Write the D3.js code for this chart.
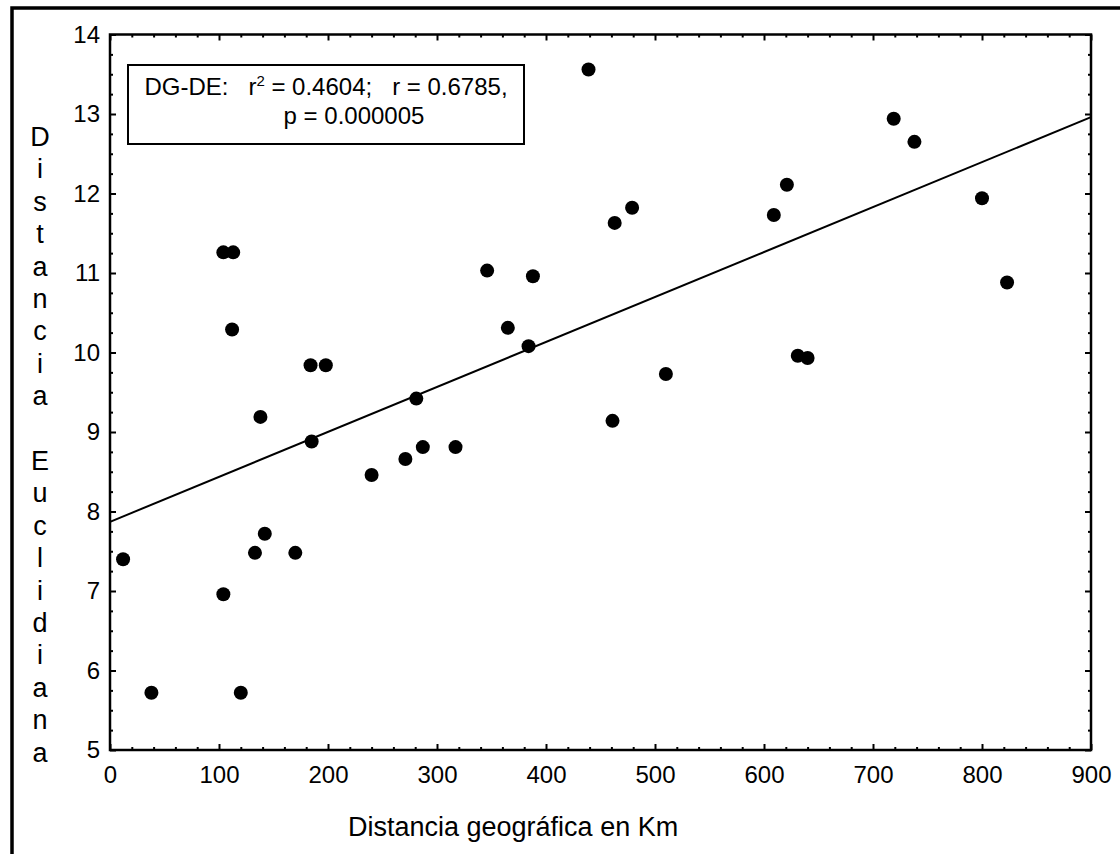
<!DOCTYPE html>
<html>
<head>
<meta charset="utf-8">
<script src="https://cdn.jsdelivr.net/npm/d3@7"></script>
<style>
  body { margin: 0; background: #fff; }
  svg { display: block; font-family: "Liberation Sans", Arial, sans-serif; }
  text { white-space: pre; }
</style>
</head>
<body>
<div id="chart"></div>
<script>
// Distancia geográfica (km) vs distancia euclidiana
const distKm = [12, 38, 104, 120, 133, 142, 170, 104, 113, 112, 138, 184, 198, 185,
  240, 271, 281, 287, 317, 346, 365, 384, 388, 439, 461, 463, 479, 510,
  609, 621, 631, 640, 719, 738, 800, 823];
const distEuc = [7.40, 5.72, 6.96, 5.72, 7.48, 7.72, 7.48, 11.26, 11.26, 10.29, 9.19, 9.84, 9.84, 8.88,
  8.46, 8.66, 9.42, 8.81, 8.81, 11.03, 10.31, 10.08, 10.96, 13.56, 9.14, 11.63, 11.82, 9.73,
  11.73, 12.11, 9.96, 9.93, 12.94, 12.65, 11.94, 10.88];

// regression line end points
const regX = [0, 900];
const regY = [7.87, 12.96];

const xTicks = [0, 100, 200, 300, 400, 500, 600, 700, 800, 900];
const yTicks = [5, 6, 7, 8, 9, 10, 11, 12, 13, 14];
const xMinor = d3.range(0, 901, 20).filter(d => d % 100 !== 0);
const yMinor = d3.range(5, 14.01, 0.25).filter(d => d % 1 !== 0);

const yTitle = "Distancia Euclidiana";
const xTitle = "Distancia geográfica en Km";
const legendLine1 = ["DG-DE:   r", "2", " = 0.4604;   r = 0.6785,"];
const legendLine2 = "p = 0.000005";

const W = 1120, H = 854;
const margin = { top: 34.5, right: 29, bottom: 104, left: 110 };

const x = d3.scaleLinear()
  .domain([0, 900])
  .range([margin.left, W - margin.right]);

const y = d3.scaleLinear()
  .domain([5, 14])
  .range([H - margin.bottom, margin.top]);

const svg = d3.select("#chart")
  .append("svg")
  .attr("width", W)
  .attr("height", H);

// outer frame
svg.append("rect")
  .attr("x", 12).attr("y", 8)
  .attr("width", W + 20).attr("height", H + 20)
  .attr("fill", "none")
  .attr("stroke", "#000")
  .attr("stroke-width", 3.5);

// axes with inward ticks
function addAxis(axis, tx, ty, labels, fontSize) {
  const g = svg.append("g")
    .attr("transform", `translate(${tx},${ty})`)
    .call(axis);
  g.select(".domain").remove();
  g.selectAll(".tick line").attr("stroke", "#000").attr("stroke-width", 2);
  g.selectAll(".tick text")
    .attr("fill", "#000")
    .style("font-size", fontSize + "px")
    .style("font-family", "'Liberation Sans', Arial, sans-serif");
  if (!labels) g.selectAll(".tick text").remove();
  return g;
}

const yBot = y(5), yTop = y(14), xL = x(0), xR = x(900);

addAxis(d3.axisBottom(x).tickValues(xTicks).tickSize(-6).tickPadding(16).tickFormat(d3.format("d")), 0, yBot, true, 24);
addAxis(d3.axisBottom(x).tickValues(xMinor).tickSize(-3).tickFormat(""), 0, yBot, false);
addAxis(d3.axisTop(x).tickValues(xTicks).tickSize(-6), 0, yTop, false);
addAxis(d3.axisTop(x).tickValues(xMinor).tickSize(-3), 0, yTop, false);

addAxis(d3.axisLeft(y).tickValues(yTicks).tickSize(-6).tickPadding(10).tickFormat(d3.format("d")), xL, 0, true, 24);
addAxis(d3.axisLeft(y).tickValues(yMinor).tickSize(-3).tickFormat(""), xL, 0, false);
addAxis(d3.axisRight(y).tickValues(yTicks).tickSize(-6), xR, 0, false);
addAxis(d3.axisRight(y).tickValues(yMinor).tickSize(-3), xR, 0, false);

// plot frame
svg.append("rect")
  .attr("x", xL).attr("y", yTop)
  .attr("width", xR - xL).attr("height", yBot - yTop)
  .attr("fill", "none")
  .attr("stroke", "#000")
  .attr("stroke-width", 2.5);

// regression line
svg.append("path")
  .datum(d3.zip(regX, regY))
  .attr("fill", "none")
  .attr("stroke", "#000")
  .attr("stroke-width", 2)
  .attr("d", d3.line().x(d => x(d[0])).y(d => y(d[1])));

// points
svg.selectAll("circle.pt")
  .data(d3.zip(distKm, distEuc))
  .enter().append("circle")
    .attr("class", "pt")
    .attr("cx", d => x(d[0]))
    .attr("cy", d => y(d[1]))
    .attr("r", 7)
    .attr("fill", "#000");

// legend box
const leg = svg.append("g");
leg.append("rect")
  .attr("x", 128).attr("y", 65)
  .attr("width", 396).attr("height", 79)
  .attr("fill", "#fff")
  .attr("stroke", "#000")
  .attr("stroke-width", 2);

const l1 = leg.append("text")
  .attr("x", 326).attr("y", 95)
  .attr("text-anchor", "middle")
  .style("font-size", "24px");
l1.append("tspan").text(legendLine1[0]);
l1.append("tspan").attr("dy", -9).style("font-size", "15px").text(legendLine1[1]);
l1.append("tspan").attr("dy", 9).text(legendLine1[2]);

leg.append("text")
  .attr("x", 354).attr("y", 124)
  .attr("text-anchor", "middle")
  .style("font-size", "24px")
  .text(legendLine2);

// y title, one letter per line
svg.append("g")
  .selectAll("text")
  .data(yTitle.split(""))
  .enter().append("text")
    .attr("x", 40)
    .attr("y", (d, i) => 137 + i * 32.4)
    .attr("text-anchor", "middle")
    .attr("dominant-baseline", "central")
    .style("font-size", "27px")
    .text(d => d);

// x title
svg.append("text")
  .attr("x", 348)
  .attr("y", 836)
  .style("font-size", "27px")
  .text(xTitle);
</script>
</body>
</html>
